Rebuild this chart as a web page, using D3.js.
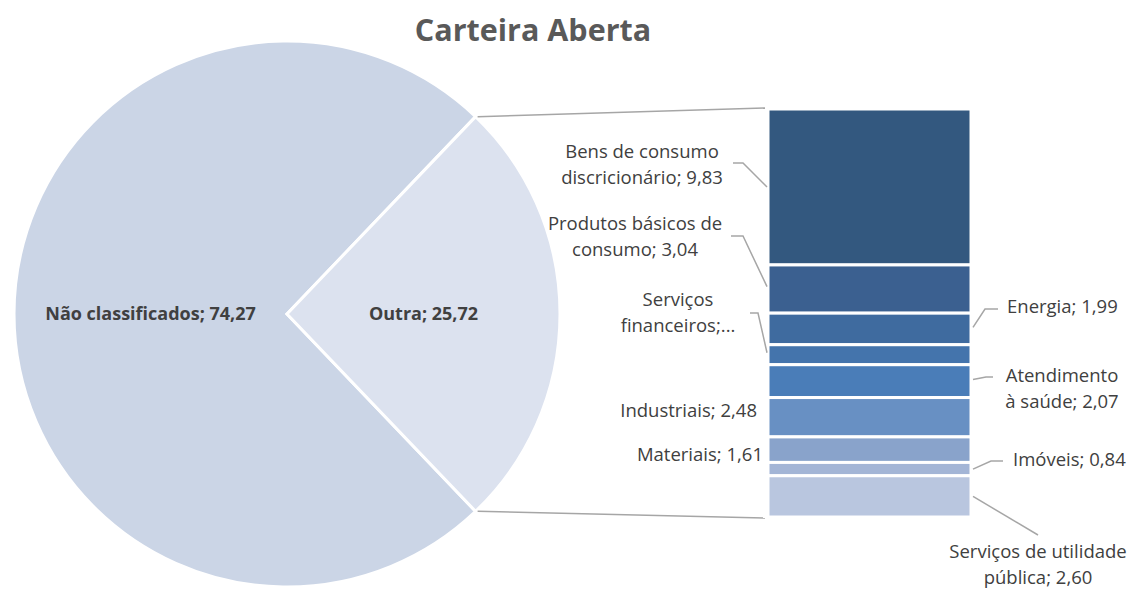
<!DOCTYPE html>
<html>
<head>
<meta charset="utf-8">
<script src="https://cdn.jsdelivr.net/npm/d3@7"></script>
<style>
  body { margin: 0; background: #fff; }
  text { font-family: "Open Sans", "Noto Sans", sans-serif; fill: #404040; }
</style>
</head>
<body>
<div id="chart"></div>
<script>
// pie categories and values
const pieCategories = ["Não classificados", "Outra"];
const pieValues = [74.27, 25.72];

// breakdown of "Outra" (bar)
const barCategories = [
  "Bens de consumo discricionário",
  "Produtos básicos de consumo",
  "Energia",
  "Serviços financeiros",
  "Atendimento à saúde",
  "Industriais",
  "Materiais",
  "Imóveis",
  "Serviços de utilidade pública"
];
const barValues = [9.83, 3.04, 1.99, 1.26, 2.07, 2.48, 1.61, 0.84, 2.60];

// label text lines (as shown in chart)
const barLabelLines = [
  ["Bens de consumo", "discricionário; 9,83"],
  ["Produtos básicos de", "consumo; 3,04"],
  ["Energia; 1,99"],
  ["Serviços", "financeiros;..."],
  ["Atendimento", "à saúde; 2,07"],
  ["Industriais; 2,48"],
  ["Materiais; 1,61"],
  ["Imóveis; 0,84"],
  ["Serviços de utilidade", "pública; 2,60"]
];

const pieColors = ["#cbd5e6", "#dce2ef"];
const barColors = ["#33587f", "#3b6090", "#3f6b9f", "#4474ac", "#4a7db8", "#6890c3", "#89a3cb", "#a3b5d6", "#b9c6df"];

// label layout: text anchor, first line y, leader bend points, hit point on segment (fraction)
const labelLayout = [
  {x: 642, y: 152, anchor: "middle", lead: [[733, 163], [743, 163]], hit: 0.5, side: "left"},
  {x: 635, y: 224, anchor: "middle", lead: [[731, 236], [743, 236]], hit: 0.45, side: "left"},
  {x: 1007, y: 307, anchor: "start", lead: [[998, 309], [985, 309]], hit: 0.45, side: "right"},
  {x: 678, y: 300, anchor: "middle", lead: [[750, 313], [758, 313]], hit: 0.4, side: "left"},
  {x: 1062, y: 376, anchor: "middle", lead: [[993, 377], [986, 377]], hit: 0.45, side: "right"},
  {x: 757, y: 411, anchor: "end", lead: null, side: "left"},
  {x: 763, y: 455, anchor: "end", lead: null, side: "left"},
  {x: 1013, y: 460, anchor: "start", lead: [[1003, 461], [991, 461]], hit: 0.5, side: "right"},
  {x: 1038, y: 552, anchor: "middle", lead: [[1038, 535]], hit: 0.5, side: "right"}
];

const width = 1131, height = 589;
const svg = d3.select("#chart").append("svg")
  .attr("width", width).attr("height", height);

// title
svg.append("text")
  .attr("x", 533).attr("y", 41)
  .attr("text-anchor", "middle")
  .style("font-size", "30.5px").style("font-weight", "bold")
  .style("fill", "#595959")
  .text("Carteira Aberta");

// pie
const cx = 287, cy = 314, r = 273;
const outraAngle = pieValues[1] / d3.sum(pieValues) * 2 * Math.PI;
const startA = Math.PI / 2 + outraAngle / 2;
const pie = d3.pie().sort(null).startAngle(startA).endAngle(startA + 2 * Math.PI);
const arcs = pie(pieValues);
const arc = d3.arc().innerRadius(0).outerRadius(r);

const pg = svg.append("g").attr("transform", `translate(${cx},${cy})`);
pg.selectAll("path").data(arcs).enter().append("path")
  .attr("d", arc)
  .attr("fill", (d, i) => pieColors[i])
  .attr("stroke", "#fff").attr("stroke-width", 3).attr("stroke-linejoin", "miter");

pg.selectAll("text").data(arcs).enter().append("text")
  .attr("transform", d => {
    const a = (d.startAngle + d.endAngle) / 2 - Math.PI / 2;
    return `translate(${Math.cos(a) * r * 0.5},${Math.sin(a) * r * 0.5})`;
  })
  .attr("dy", "0.35em")
  .attr("text-anchor", "middle")
  .style("font-size", "18px").style("font-weight", "bold")
  .text((d, i) => pieCategories[i] + "; " + d3.format(".2f")(pieValues[i]).replace(".", ","));

// bar of "Outra"
const barX0 = 768, barX1 = 971;
const stacked = d3.cumsum(barValues);
const y = d3.scaleLinear().domain([0, d3.sum(barValues)]).range([109, 517]);

// connector lines
const outraArc = arcs[1];
const pt = a => [cx + Math.sin(a) * r, cy - Math.cos(a) * r];
const topPt = pt(outraArc.startAngle), botPt = pt(outraArc.endAngle);
svg.append("line")
  .attr("x1", topPt[0] + 2).attr("y1", topPt[1]).attr("x2", barX0 - 3).attr("y2", y(0) - 1)
  .attr("stroke", "#a6a6a6").attr("stroke-width", 1.5);
svg.append("line")
  .attr("x1", botPt[0] + 2).attr("y1", botPt[1]).attr("x2", barX0 - 3).attr("y2", y(d3.sum(barValues)) + 1)
  .attr("stroke", "#a6a6a6").attr("stroke-width", 1.5);

svg.append("g").selectAll("rect").data(barValues).enter().append("rect")
  .attr("x", barX0)
  .attr("y", (d, i) => y(stacked[i] - d))
  .attr("width", barX1 - barX0)
  .attr("height", d => y(d) - y(0))
  .attr("fill", (d, i) => barColors[i])
  .attr("stroke", "#fff").attr("stroke-width", 3);

// data labels with leader lines
const lg = svg.append("g");
barValues.forEach((v, i) => {
  const L = labelLayout[i];
  const t = lg.append("text")
    .attr("x", L.x).attr("y", L.y)
    .attr("text-anchor", L.anchor)
    .style("font-size", "18.5px");
  barLabelLines[i].forEach((line, k) => {
    t.append("tspan").attr("x", L.x).attr("dy", k === 0 ? "0.35em" : "1.36em").text(line);
  });
  if (L.lead) {
    const segY = y(stacked[i] - v + v * L.hit);
    const hx = L.side === "left" ? barX0 - 1 : barX1 + 2;
    const pts = L.lead.concat([[hx, segY]]);
    lg.append("path")
      .attr("d", d3.line()(pts))
      .attr("fill", "none")
      .attr("stroke", "#a6a6a6").attr("stroke-width", 1.5);
  }
});
</script>
</body>
</html>
